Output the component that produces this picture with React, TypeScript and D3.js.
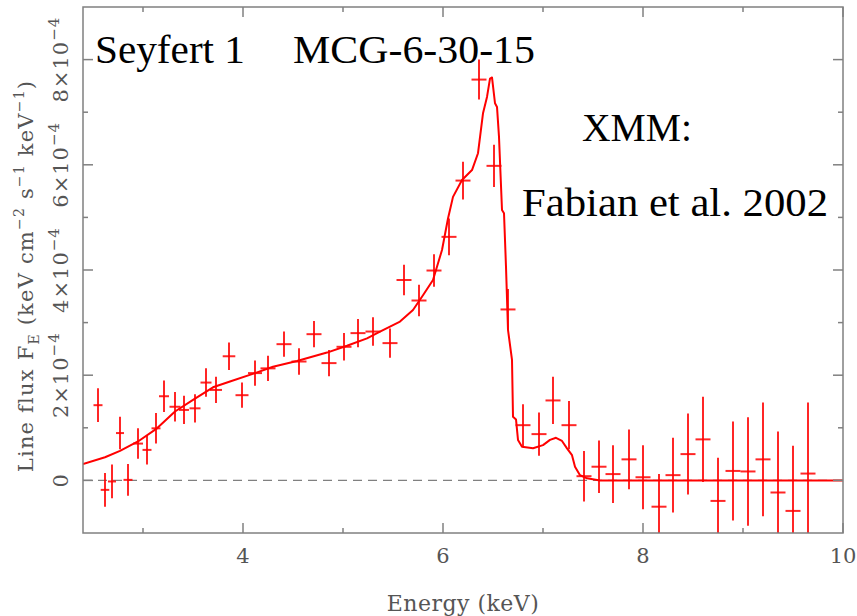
import React from "react";
import * as d3 from "d3";

// binned data (flux in units of 1e-4 keV cm^-2 s^-1 keV^-1)
const energy = [2.55, 2.62, 2.69, 2.77, 2.85, 2.95, 3.04, 3.13, 3.21, 3.32, 3.41, 3.52, 3.63, 3.73, 3.86, 3.99, 4.12, 4.25, 4.41, 4.56, 4.71, 4.86, 5.01, 5.15, 5.30, 5.47, 5.61, 5.76, 5.91, 6.06, 6.20, 6.36, 6.51, 6.65, 6.80, 6.96, 7.10, 7.26, 7.41, 7.56, 7.70, 7.86, 8.00, 8.16, 8.30, 8.45, 8.60, 8.75, 8.90, 9.05, 9.20, 9.35, 9.50, 9.65];
const energyErr = [0.045, 0.043, 0.04, 0.04, 0.045, 0.05, 0.045, 0.045, 0.05, 0.055, 0.05, 0.055, 0.055, 0.06, 0.063, 0.065, 0.07, 0.075, 0.075, 0.075, 0.075, 0.075, 0.075, 0.075, 0.075, 0.075, 0.075, 0.075, 0.075, 0.075, 0.075, 0.075, 0.075, 0.075, 0.075, 0.075, 0.075, 0.075, 0.075, 0.075, 0.075, 0.075, 0.075, 0.075, 0.075, 0.075, 0.075, 0.075, 0.075, 0.075, 0.075, 0.075, 0.075, 0.075];
const flux = [1.43, -0.18, -0.02, 0.90, 0.01, 0.70, 0.58, 0.99, 1.60, 1.40, 1.34, 1.37, 1.86, 1.72, 2.36, 1.62, 2.04, 2.13, 2.59, 2.26, 2.78, 2.23, 2.54, 2.80, 2.83, 2.61, 3.81, 3.42, 3.99, 4.63, 5.70, 7.62, 5.98, 3.25, 1.05, 0.88, 1.52, 1.05, 0.08, 0.26, 0.12, 0.40, 0.06, -0.50, 0.10, 0.50, 0.78, -0.39, 0.18, 0.17, 0.40, -0.23, -0.58, 0.13];
const fluxErr = [0.32, 0.32, 0.32, 0.31, 0.30, 0.29, 0.28, 0.29, 0.30, 0.28, 0.27, 0.27, 0.27, 0.25, 0.26, 0.24, 0.24, 0.24, 0.24, 0.25, 0.25, 0.25, 0.26, 0.27, 0.27, 0.28, 0.29, 0.30, 0.31, 0.35, 0.36, 0.38, 0.40, 0.39, 0.40, 0.41, 0.45, 0.46, 0.48, 0.50, 0.55, 0.57, 0.61, 0.62, 0.71, 0.77, 0.81, 0.82, 0.94, 1.03, 1.08, 1.16, 1.24, 1.35];

// model line profile
const modelEnergy = [2.40, 2.62, 2.77, 2.95, 3.14, 3.32, 3.50, 3.70, 3.87, 4.12, 4.30, 4.54, 4.84, 5.04, 5.24, 5.37, 5.57, 5.70, 5.80, 5.90, 5.99, 6.05, 6.10, 6.19, 6.29, 6.35, 6.40, 6.44, 6.47, 6.49, 6.52, 6.54, 6.56, 6.59, 6.61, 6.63, 6.65, 6.69, 6.70, 6.73, 6.75, 6.79, 6.90, 7.00, 7.07, 7.13, 7.19, 7.24, 7.29, 7.32, 7.37, 7.44, 7.57, 10.0];
const modelFlux = [0.31, 0.44, 0.56, 0.74, 0.99, 1.31, 1.53, 1.77, 1.88, 2.04, 2.16, 2.27, 2.43, 2.56, 2.70, 2.83, 3.02, 3.24, 3.52, 3.81, 4.38, 4.98, 5.39, 5.71, 5.90, 6.22, 6.98, 7.29, 7.64, 7.66, 7.17, 7.10, 6.53, 5.14, 5.08, 4.06, 2.86, 2.29, 1.21, 1.16, 0.77, 0.64, 0.61, 0.67, 0.77, 0.81, 0.75, 0.61, 0.48, 0.26, 0.10, 0.04, 0.00, 0.00];

const xMajor = [4, 6, 8, 10];
const xMinor = [3, 5, 7, 9];
const yMajor = [0, 2, 4, 6, 8];
const yMinor = [1, 3, 5, 7];

const red = "#ff0000";
const axisGrey = "#808080";
const labelGrey = "#555";
const labelFont = "'DejaVu Serif', serif";
const titleFont = "'Liberation Serif', 'Times New Roman', serif";

export default function App() {
  const width = 857;
  const height = 616;
  const left = 83, right = 843, top = 7, bottom = 533;
  const majorLen = 10;
  const minorLen = 5;

  const x = d3.scaleLinear().domain([2.4, 10]).range([left, right]);
  const y = d3.scaleLinear().domain([-1, 9]).range([bottom, top]);

  const model = d3.line<number>()
    .x((d, i) => x(modelEnergy[i]))
    .y(d => y(d));

  const xTicks = [
    ...xMajor.map(v => ({v, len: majorLen})),
    ...xMinor.map(v => ({v, len: minorLen})),
  ];
  const yTicks = [
    ...yMajor.map(v => ({v, len: majorLen})),
    ...yMinor.map(v => ({v, len: minorLen})),
  ];

  return (
    <svg width={width} height={height} style={{position: "absolute", left: 0, top: 0, background: "#fff"}}>
      <defs>
        <clipPath id="plot-clip">
          <rect x={left} y={top} width={right - left} height={bottom - top}/>
        </clipPath>
      </defs>

      {/* zero line */}
      <line x1={left} x2={right} y1={y(0)} y2={y(0)}
        stroke={axisGrey} strokeWidth={1.3} strokeDasharray="9,6"/>

      <g clipPath="url(#plot-clip)">
        {/* data crosses */}
        <g stroke={red} strokeWidth={2} strokeOpacity={0.85}>
          {energy.map((e, i) => (
            <g key={i}>
              <line x1={x(e - energyErr[i])} x2={x(e + energyErr[i])} y1={y(flux[i])} y2={y(flux[i])}/>
              <line x1={x(e)} x2={x(e)} y1={y(flux[i] - fluxErr[i])} y2={y(flux[i] + fluxErr[i])}/>
            </g>
          ))}
        </g>
        <path d={model(modelFlux) || ""} fill="none" stroke={red} strokeWidth={2} strokeLinejoin="round"/>
      </g>

      {/* frame and ticks */}
      <g stroke={axisGrey} strokeWidth={1.5}>
        <rect x={left} y={top} width={right - left} height={bottom - top} fill="none"/>
        {xTicks.map(t => (
          <g key={"x" + t.v}>
            <line x1={x(t.v)} x2={x(t.v)} y1={bottom} y2={bottom - t.len}/>
            <line x1={x(t.v)} x2={x(t.v)} y1={top} y2={top + t.len}/>
          </g>
        ))}
        {yTicks.map(t => (
          <g key={"y" + t.v}>
            <line x1={left} x2={left + t.len} y1={y(t.v)} y2={y(t.v)}/>
            <line x1={right} x2={right - t.len} y1={y(t.v)} y2={y(t.v)}/>
          </g>
        ))}
      </g>

      {/* tick labels */}
      <g fill={labelGrey} fontFamily={labelFont} fontSize={21}>
        {xMajor.map(v => (
          <text key={v} x={x(v)} y={563} textAnchor="middle">{v}</text>
        ))}
        {yMajor.map(v => (
          <text key={v} transform={`translate(68,${y(v)}) rotate(-90)`} textAnchor="middle" letterSpacing={1}>
            {v === 0 ? "0" : (
              <>
                {`${v}×10`}
                <tspan fontSize={15} dy={-9}>−4</tspan>
              </>
            )}
          </text>
        ))}
      </g>

      {/* axis titles */}
      <text x={463} y={611} textAnchor="middle" fill={labelGrey} fontFamily={labelFont} fontSize={22} letterSpacing={0.5}>
        Energy (keV)
      </text>
      <text transform={`translate(33,276) rotate(-90)`} textAnchor="middle" fill={labelGrey}
        fontFamily={labelFont} fontSize={21} letterSpacing={1.2}>
        Line flux F<tspan fontSize={14} dy={6}>E</tspan>
        <tspan dy={-6}> (keV cm</tspan>
        <tspan fontSize={14} dy={-9}>−2</tspan>
        <tspan dy={9}> s</tspan>
        <tspan fontSize={14} dy={-9}>−1</tspan>
        <tspan dy={9}> keV</tspan>
        <tspan fontSize={14} dy={-9}>−1</tspan>
        <tspan dy={9}>)</tspan>
      </text>

      {/* annotations */}
      <g fill="#000" fontFamily={titleFont} fontSize={41}>
        <text x={95} y={63} textLength={150} lengthAdjust="spacingAndGlyphs">Seyfert 1</text>
        <text x={293} y={63} textLength={242} lengthAdjust="spacingAndGlyphs">MCG-6-30-15</text>
        <text x={582} y={141} textLength={110} lengthAdjust="spacingAndGlyphs">XMM:</text>
        <text x={522} y={216} textLength={306} lengthAdjust="spacingAndGlyphs">Fabian et al. 2002</text>
      </g>
    </svg>
  );
}
